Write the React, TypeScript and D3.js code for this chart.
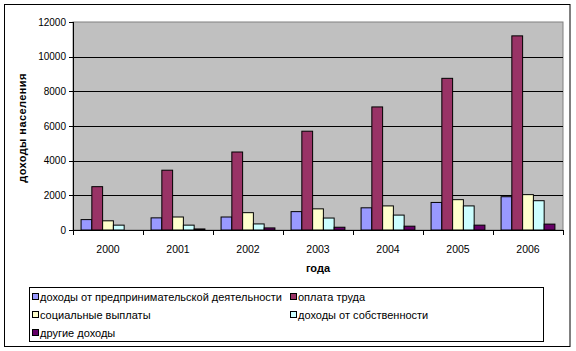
import React from "react";
import * as d3 from "d3";

const years = ["2000", "2001", "2002", "2003", "2004", "2005", "2006"];
const seriesNames = [
  "доходы от предпринимательской деятельности",
  "оплата труда",
  "социальные выплаты",
  "доходы от собственности",
  "другие доходы",
];
const entrepreneur = [600, 700, 750, 1060, 1280, 1590, 1920];
const wages = [2500, 3450, 4500, 5700, 7100, 8750, 11200];
const social = [530, 750, 1000, 1220, 1390, 1750, 2040];
const property = [280, 280, 350, 690, 860, 1390, 1690];
const other = [0, 60, 120, 160, 220, 280, 340];
const yTicks = [0, 2000, 4000, 6000, 8000, 10000, 12000];
const colors = ["#9999FF", "#993366", "#FFFFCC", "#CCFFFF", "#660066"];

const W = 576;
const H = 351;
const font = "'Liberation Sans', Arial, sans-serif";

const App: React.FC = () => {
  const values = [entrepreneur, wages, social, property, other];

  const x0 = d3.scaleBand<string>().domain(years).range([73, 563]).padding(0);
  const x1 = d3
    .scaleBand<string>()
    .domain(seriesNames)
    .range([0, x0.bandwidth()])
    .paddingInner(0)
    .paddingOuter(0.75);
  const y = d3.scaleLinear().domain([0, 12000]).range([230, 22]);

  // legend layout: two columns, three rows
  const legendPos = [
    { x: 33, y: 297 },
    { x: 291, y: 297 },
    { x: 33, y: 315 },
    { x: 291, y: 315 },
    { x: 33, y: 333 },
  ];

  return (
    <svg
      width={W}
      height={H}
      style={{ position: "absolute", left: 0, top: 0, background: "#fff" }}
      fontFamily={font}
    >
      {/* chart border */}
      <rect x={4.5} y={4.5} width={565.5} height={342} fill="#fff" stroke="#000" strokeWidth={1} />

      {/* plot area */}
      <rect x={73} y={22} width={490} height={208} fill="#C0C0C0" stroke="#808080" strokeWidth={1} />

      {/* gridlines */}
      {yTicks.slice(1, -1).map((t) => (
        <line key={t} x1={73} x2={563} y1={Math.round(y(t)) + 0.5} y2={Math.round(y(t)) + 0.5} stroke="#000" />
      ))}

      {/* bars */}
      {values.map((vals, si) =>
        years.map((yr, i) => {
          const v = vals[i];
          if (v <= 0) return null;
          return (
            <rect
              key={`${si}-${yr}`}
              x={x0(yr)! + x1(seriesNames[si])!}
              y={y(v)}
              width={x1.bandwidth()}
              height={230 - y(v)}
              fill={colors[si]}
              stroke="#000"
              strokeWidth={1}
            />
          );
        })
      )}

      {/* y axis */}
      <line x1={73.5} x2={73.5} y1={22} y2={230} stroke="#000" />
      {yTicks.map((t) => (
        <g key={t}>
          <line x1={69} x2={73} y1={Math.round(y(t)) + 0.5} y2={Math.round(y(t)) + 0.5} stroke="#000" />
          <text x={66} y={y(t)} dy="0.35em" textAnchor="end" fontSize={10}>
            {t}
          </text>
        </g>
      ))}

      {/* x axis */}
      <line x1={73} x2={563} y1={230.5} y2={230.5} stroke="#000" />
      {[...years.map((yr) => x0(yr)!), 563].map((xv, i) => (
        <line key={i} x1={Math.round(xv) + 0.5} x2={Math.round(xv) + 0.5} y1={230} y2={235} stroke="#000" />
      ))}
      {years.map((yr) => (
        <text key={yr} x={x0(yr)! + x0.bandwidth() / 2} y={249} dy="0.35em" textAnchor="middle" fontSize={10.5}>
          {yr}
        </text>
      ))}

      {/* axis titles */}
      <text x={318} y={268} dy="0.35em" textAnchor="middle" fontSize={11} fontWeight="bold">
        года
      </text>
      <text
        transform={`translate(22,128) rotate(-90)`}
        dy="0.35em"
        textAnchor="middle"
        fontSize={11}
        fontWeight="bold"
        letterSpacing={0.4}
      >
        доходы населения
      </text>

      {/* legend */}
      <rect x={29.5} y={287.5} width={514} height={54} fill="#fff" stroke="#000" />
      {seriesNames.map((name, i) => (
        <g key={name}>
          <rect
            x={legendPos[i].x - 0.5}
            y={legendPos[i].y - 3.5}
            width={6}
            height={6}
            fill={colors[i]}
            stroke="#000"
          />
          <text x={legendPos[i].x + 7} y={legendPos[i].y} dy="0.35em" fontSize={11}>
            {name}
          </text>
        </g>
      ))}
    </svg>
  );
};

export default App;
